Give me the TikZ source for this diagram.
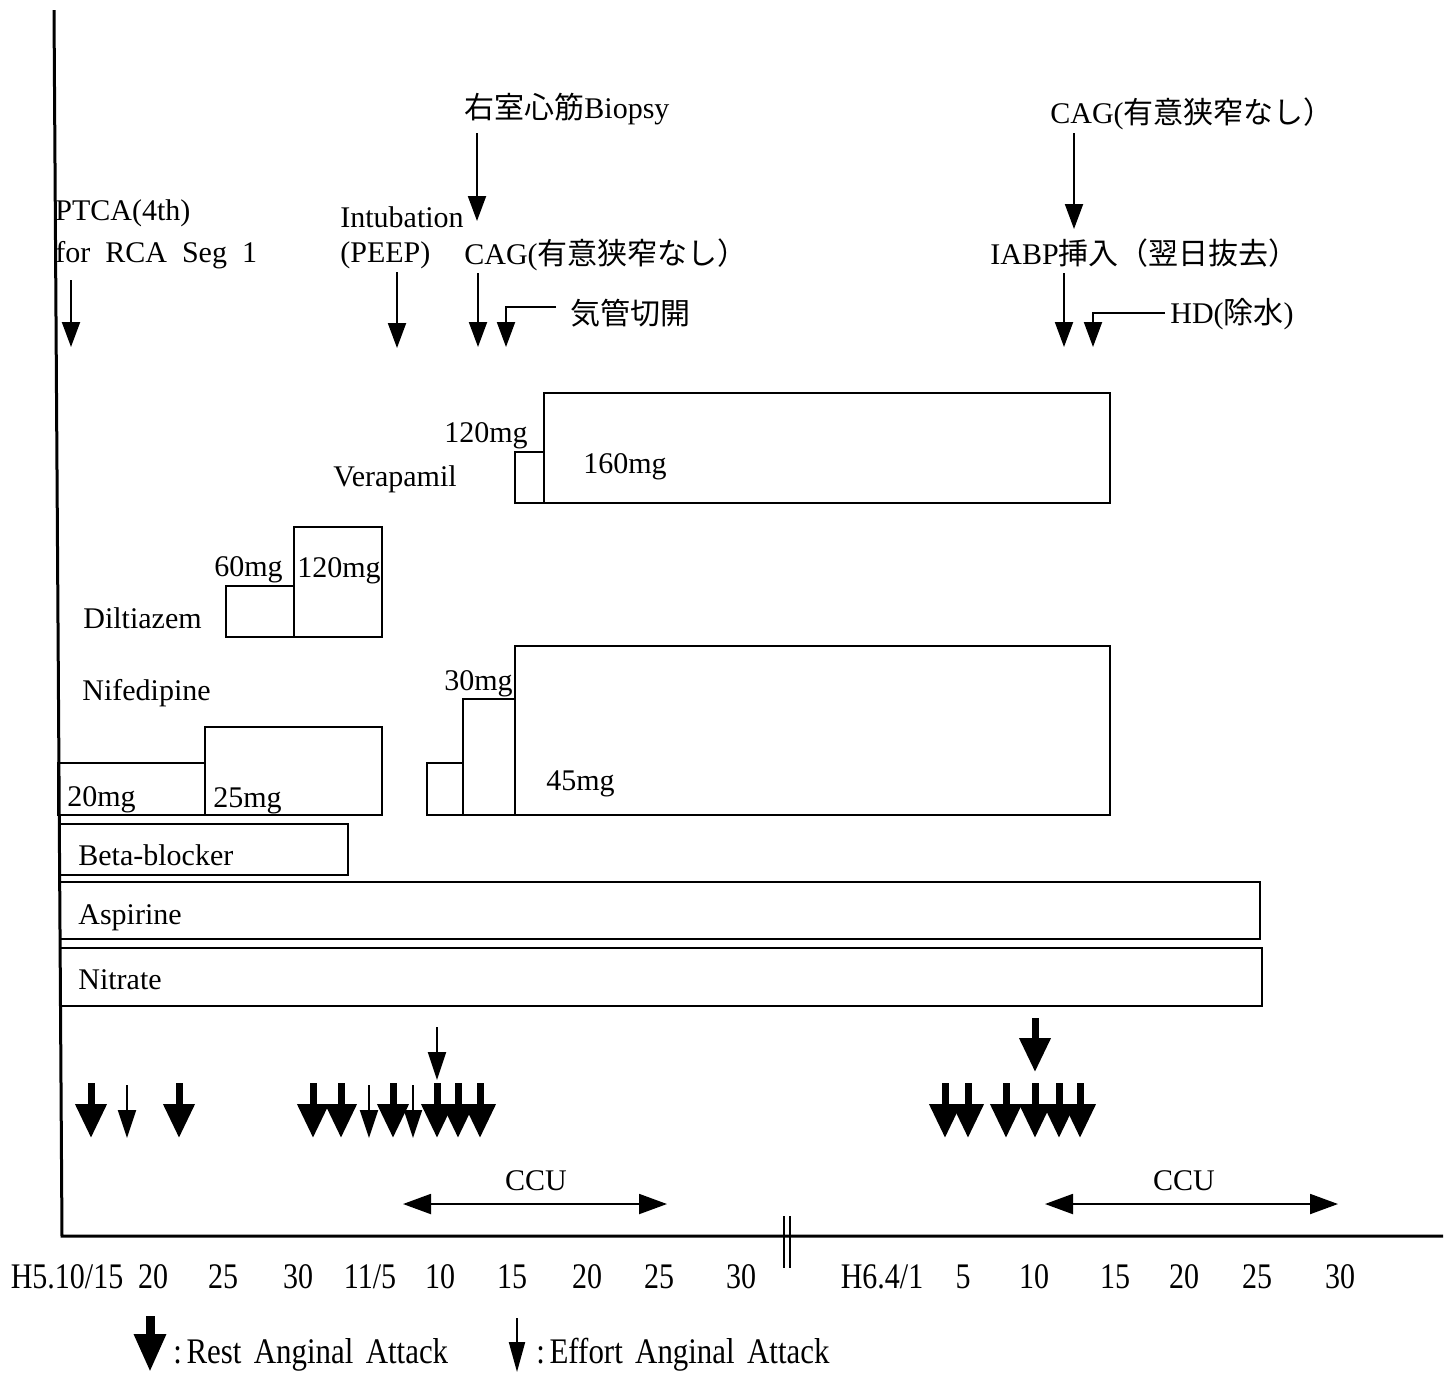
\documentclass[tikz,border=0pt]{standalone}
\usepackage{fontspec}
\usepackage{graphicx}
\setmainfont{Liberation Serif}
\newfontfamily\cjk{Noto Sans CJK JP}
\usetikzlibrary{arrows.meta}
\newcommand{\tk}[1]{\scalebox{1}[1.2]{#1}}
\newcommand{\legtxt}[1]{\scalebox{1.03}[1.2]{#1}}
\begin{document}
\begin{tikzpicture}[x=0.5pt,y=-0.5pt,
  lbl/.style={font=\fontsize{15}{15}\selectfont, inner sep=0pt, anchor=base west},
  lble/.style={lbl, anchor=base east},
  tick/.style={font=\fontsize{15}{15}\selectfont, inner sep=0pt, anchor=base},
  dose/.style={draw, line width=1.2pt},
  axisline/.style={line width=1.5pt},
  evarrow/.style={line width=1pt, -{Triangle[width=9pt,length=12.5pt]}},
  restarr/.style={line width=3.5pt, -{Triangle[width=15pt,length=17pt]}},
  effortarr/.style={line width=1pt, -{Triangle[width=9pt,length=14pt]}},
  ccuarr/.style={line width=1pt, {Triangle[width=10pt,length=14pt]}-{Triangle[width=10pt,length=14pt]}}
]
\useasboundingbox (0,0) rectangle (1451,1373);

% axes
\coordinate (axtop) at (54,10);
\coordinate (axorig) at (62,1236);
\coordinate (axend) at (1443,1236);
\draw[axisline] (axtop) -- (axorig) -- (axend);
\coordinate (br1a) at (784,1216); \coordinate (br1b) at (784,1268);
\coordinate (br2a) at (790,1216); \coordinate (br2b) at (790,1268);
\draw[line width=1pt] (br1a) -- (br1b);
\draw[line width=1pt] (br2a) -- (br2b);

% top annotations
\node[lbl] (ptca1) at (55,220) {PTCA(4th)};
\node[lbl] (ptca2) at (55,262) {for\hspace{0.5em}RCA\hspace{0.5em}Seg\hspace{0.5em}1};
\coordinate (pa1) at (71,280); \coordinate (pa2) at (71,347);
\draw[evarrow] (pa1) -- (pa2);

\node[lbl] (intub1) at (340,227) {Intubation};
\node[lbl] (intub2) at (340,262) {(PEEP)};
\coordinate (ia1) at (397,272); \coordinate (ia2) at (397,348);
\draw[evarrow] (ia1) -- (ia2);

\node[lbl] (biopsy) at (464,118) {{\cjk 右室心筋}Biopsy};
\coordinate (ba1) at (477,133); \coordinate (ba2) at (477,221);
\draw[evarrow] (ba1) -- (ba2);

\node[lbl] (cag1) at (464,264) {CAG({\cjk 有意狭窄なし）}};
\coordinate (ca1) at (478,273); \coordinate (ca2) at (478,347);
\draw[evarrow] (ca1) -- (ca2);

\node[lbl] (trach) at (570,324) {\cjk 気管切開};
\coordinate (ta1) at (556,307); \coordinate (ta2) at (506,347);
\draw[evarrow] (ta1) -| (ta2);

\node[lbl] (cag2) at (1050,123) {CAG({\cjk 有意狭窄なし）}};
\coordinate (c2a1) at (1074,133); \coordinate (c2a2) at (1074,229);
\draw[evarrow] (c2a1) -- (c2a2);

\node[lbl] (iabp) at (990,264) {IABP{\cjk 挿入（翌日抜去）}};
\coordinate (iba1) at (1064,273); \coordinate (iba2) at (1064,347);
\draw[evarrow] (iba1) -- (iba2);

\node[lbl] (hd) at (1170,323) {HD({\cjk 除水})};
\coordinate (hda1) at (1165,313); \coordinate (hda2) at (1093,347);
\draw[evarrow] (hda1) -| (hda2);

% Verapamil
\draw[dose] (515,452) rectangle (544,503);
\draw[dose] (544,393) rectangle (1110,503);
\node[lble] (v120) at (528,442) {120mg};
\node[lbl] (v160) at (583,473) {160mg};
\node[lbl] (vera) at (333,486) {Verapamil};

% Diltiazem
\draw[dose] (226,586) rectangle (294,637);
\draw[dose] (294,527) rectangle (382,637);
\node[lbl] (d60) at (214,576) {60mg};
\node[lbl] (d120) at (297,577) {120mg};
\node[lbl] (dil) at (83,628) {Diltiazem};

% Nifedipine
\node[lbl] (nif) at (82,700) {Nifedipine};
\draw[dose] (58,763) rectangle (205,815);
\draw[dose] (205,727) rectangle (382,815);
\node[lbl] (n20) at (67,806) {20mg};
\node[lbl] (n25) at (213,807) {25mg};
\draw[dose] (427,763) rectangle (463,815);
\draw[dose] (463,699) rectangle (515,815);
\draw[dose] (515,646) rectangle (1110,815);
\node[lbl] (n30) at (444,690) {30mg};
\node[lbl] (n45) at (546,790) {45mg};

% long bars
\draw[dose] (60,824) rectangle (348,875);
\node[lbl] (beta) at (78,865) {Beta-blocker};
\draw[dose] (60,882) rectangle (1260,939);
\node[lbl] (asp) at (78,924) {Aspirine};
\draw[dose] (60,948) rectangle (1262,1006);
\node[lbl] (nit) at (78,989) {Nitrate};

% anginal attacks
\foreach \x [count=\i] in {91,179,313,341,393,437,458,480,945,968,1006,1035,1059,1080}{
  \coordinate (r\i a) at (\x,1083);
  \coordinate (r\i b) at (\x,1138);
  \draw[restarr] (r\i a) -- (r\i b);
}
\foreach \x [count=\i] in {127,369,413}{
  \coordinate (e\i a) at (\x,1085);
  \coordinate (e\i b) at (\x,1138);
  \draw[effortarr] (e\i a) -- (e\i b);
}
\coordinate (eu1) at (437,1027); \coordinate (eu2) at (437,1080);
\draw[effortarr] (eu1) -- (eu2);
\coordinate (ru1) at (1035,1018); \coordinate (ru2) at (1035,1072);
\draw[restarr] (ru1) -- (ru2);

% CCU
\node[tick] (ccu1) at (536,1190) {CCU};
\coordinate (cc1a) at (403,1204); \coordinate (cc1b) at (667,1204);
\draw[ccuarr] (cc1a) -- (cc1b);
\node[tick] (ccu2) at (1184,1190) {CCU};
\coordinate (cc2a) at (1045,1204); \coordinate (cc2b) at (1338,1204);
\draw[ccuarr] (cc2a) -- (cc2b);

% tick labels
\foreach \x/\t in {67/H5.10\slash 15,153/20,223/25,298/30,370/11\slash 5,440/10,512/15,587/20,659/25,741/30,882/H6.4\slash 1,963/5,1034/10,1115/15,1184/20,1257/25,1340/30}{
  \node[tick] at (\x,1288) {\tk{\t}};
}

% legend
\coordinate (lg1a) at (150,1316); \coordinate (lg1b) at (150,1372);
\draw[line width=4.5pt, -{Triangle[width=15pt,length=19pt]}] (lg1a) -- (lg1b);
\node[lbl] (lgrest) at (173,1363) {\legtxt{:\hspace{0.15em}Rest\hspace{0.4em}Anginal\hspace{0.4em}Attack}};
\coordinate (lg2a) at (517,1318); \coordinate (lg2b) at (517,1372);
\draw[line width=1pt, -{Triangle[width=8pt,length=15pt]}] (lg2a) -- (lg2b);
\node[lbl] (lgeff) at (536,1363) {\legtxt{:\hspace{0.15em}Effort\hspace{0.4em}Anginal\hspace{0.4em}Attack}};
\end{tikzpicture}
\end{document}
